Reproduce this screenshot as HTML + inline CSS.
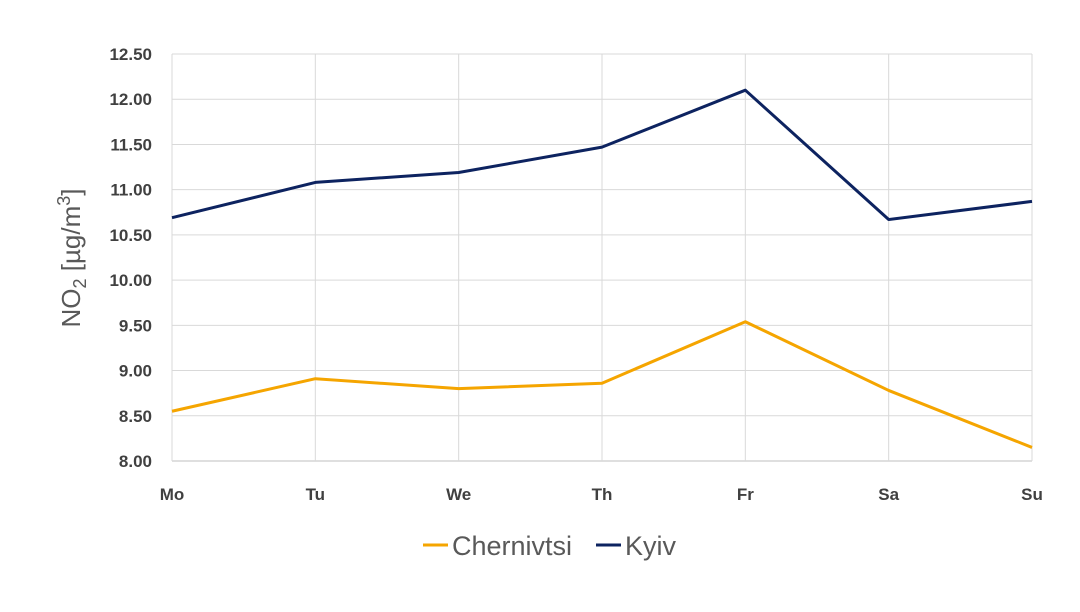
<!DOCTYPE html>
<html><head><meta charset="utf-8"><style>
body{margin:0;background:#fff;}
svg{display:block;font-family:"Liberation Sans",sans-serif;}
</style></head><body>
<svg id="chart" width="1080" height="612" viewBox="0 0 1080 612">
<g id="grid"></g><g id="series"></g><g id="labels"></g>
<text transform="translate(80,258) rotate(-90)" text-anchor="middle" font-size="26" fill="#595959">NO<tspan font-size="18" dy="6">2</tspan><tspan dy="-6"> [µg/m</tspan><tspan font-size="18" dy="-10">3</tspan><tspan dy="10">]</tspan></text>
<g>
<line x1="423" y1="545" x2="448" y2="545" stroke="#f5a500" stroke-width="3"/>
<text x="452" y="555" font-size="27" fill="#595959">Chernivtsi</text>
<line x1="596" y1="545" x2="621" y2="545" stroke="#0d2360" stroke-width="3"/>
<text x="625" y="555" font-size="27" fill="#595959">Kyiv</text>
</g>
</svg>
<script>
const categories=["Mo","Tu","We","Th","Fr","Sa","Su"];
const kyiv=[10.69,11.08,11.19,11.47,12.10,10.67,10.87];
const chernivtsi=[8.55,8.91,8.80,8.86,9.54,8.78,8.15];
const yTicks=[8.00,8.50,9.00,9.50,10.00,10.50,11.00,11.50,12.00,12.50];
const X0=172,X1=1032,Y0=461,Y1=54,YMIN=8,YMAX=12.5;
const NS="http://www.w3.org/2000/svg";
const xs=i=>X0+i*(X1-X0)/(categories.length-1);
const ys=v=>Y0-(v-YMIN)/(YMAX-YMIN)*(Y0-Y1);
function mk(t,a,p){const e=document.createElementNS(NS,t);for(const k in a)e.setAttribute(k,a[k]);p.appendChild(e);return e;}
const g=document.getElementById('grid'),s=document.getElementById('series'),l=document.getElementById('labels');
yTicks.forEach(v=>{
 const ln=mk('line',{x1:X0,x2:X1,y1:ys(v),y2:ys(v),stroke:v===YMIN?'#bfbfbf':'#d9d9d9','stroke-width':1},g);
 
 
 const t=mk('text',{x:X0-20,y:ys(v)+6,'text-anchor':'end','font-size':17,'font-weight':'bold',fill:'#404040'},l);
 t.textContent=v.toFixed(2);
 
 
});
categories.forEach((c,i)=>{
 const ln=mk('line',{x1:xs(i),x2:xs(i),y1:Y1,y2:Y0,stroke:'#d9d9d9','stroke-width':1},g);
 
 
 const t=mk('text',{x:xs(i),y:Y0+39,'text-anchor':'middle','font-size':17,'font-weight':'bold',fill:'#404040'},l);
 t.textContent=c;
 
 
});
function line(data,color,name){
 const p=mk('polyline',{points:data.map((v,i)=>xs(i)+','+ys(v)).join(' '),fill:'none',stroke:color,'stroke-width':3,'stroke-linejoin':'round'},s);
 
 
}
line(chernivtsi,'#f5a500','line-chernivtsi');
line(kyiv,'#0d2360','line-kyiv');
</script>
</body></html>
